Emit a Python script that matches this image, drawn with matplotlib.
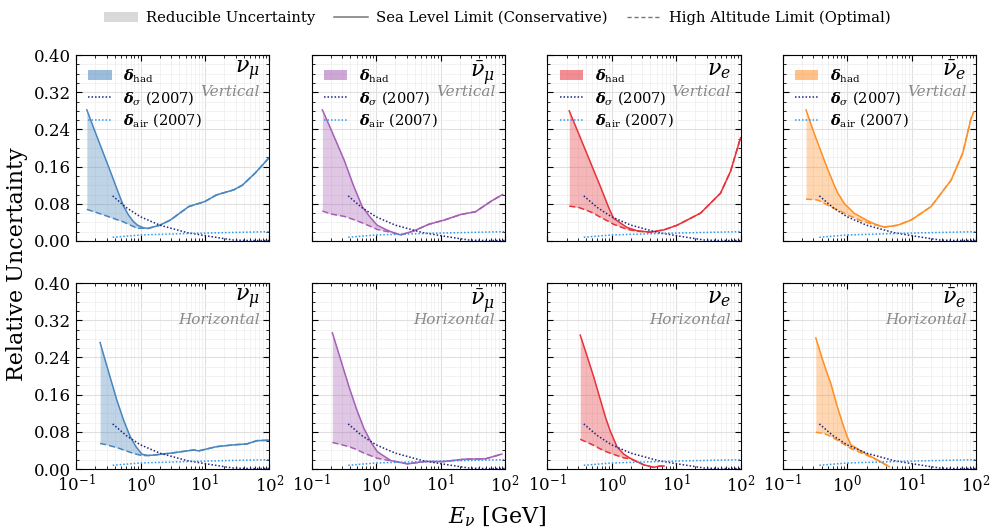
import matplotlib
matplotlib.use("Agg")
import matplotlib.pyplot as plt
from matplotlib.patches import Patch
from matplotlib.lines import Line2D
from matplotlib.ticker import MultipleLocator, LogLocator, NullFormatter

plt.rcParams['font.family'] = ['DejaVu Serif']
plt.rcParams['mathtext.fontset'] = 'dejavuserif'

# shared 2007 reference curves
e_sigma = [0.37, 0.6, 1.0, 2.0, 5.3, 10.6, 20, 28, 50, 100]
d_sigma = [0.097, 0.072, 0.052, 0.034, 0.018, 0.011, 0.005, 0.002, 0.001, 0.001]
e_air = [0.37, 1.0, 3.0, 6.7, 20, 100]
d_air = [0.008, 0.013, 0.015, 0.0165, 0.018, 0.020]

# top row: vertical
e_numu_v = [0.147, 0.2, 0.34, 0.45, 0.545, 0.65, 0.78, 0.9, 1.1, 1.3, 2.0, 2.9, 5.6, 10, 15, 28, 38, 60, 100]
sea_numu_v = [0.282, 0.233, 0.150, 0.105, 0.075, 0.056, 0.0415, 0.034, 0.0286, 0.027, 0.034, 0.045, 0.074, 0.085, 0.099, 0.11, 0.12, 0.146, 0.18]
alt_numu_v = [0.068, 0.062, 0.051, 0.045, 0.041, 0.036, 0.031, 0.027, 0.0278, 0.027, 0.034, 0.045, 0.074, 0.085, 0.099, 0.11, 0.12, 0.146, 0.18]

e_numubar_v = [0.147, 0.2, 0.32, 0.45, 0.61, 0.8, 1.04, 1.4, 1.7, 2.4, 3.9, 6.6, 11.4, 20.6, 35, 60, 92]
sea_numubar_v = [0.282, 0.24, 0.174, 0.118, 0.074, 0.052, 0.034, 0.025, 0.020, 0.013, 0.022, 0.036, 0.045, 0.057, 0.063, 0.085, 0.100]
alt_numubar_v = [0.0645, 0.058, 0.053, 0.046, 0.039, 0.032, 0.025, 0.021, 0.019, 0.013, 0.022, 0.036, 0.045, 0.057, 0.063, 0.085, 0.100]

e_nue_v = [0.22, 0.31, 0.41, 0.52, 0.67, 0.9, 1.07, 1.74, 2.5, 4.0, 6.5, 10.4, 24, 49, 70, 100]
sea_nue_v = [0.280, 0.230, 0.189, 0.154, 0.117, 0.072, 0.049, 0.029, 0.022, 0.019, 0.024, 0.034, 0.060, 0.103, 0.15, 0.222]
alt_nue_v = [0.075, 0.072, 0.066, 0.060, 0.051, 0.042, 0.036, 0.025, 0.021, 0.019, 0.024, 0.034, 0.060, 0.103, 0.15, 0.222]

e_nuebar_v = [0.23, 0.307, 0.35, 0.44, 0.5, 0.63, 0.71, 0.9, 1.01, 1.29, 1.63, 2.07, 2.63, 3.34, 3.8, 6.1, 9.8, 20, 41, 62, 83, 92]
sea_nuebar_v = [0.282, 0.232, 0.211, 0.174, 0.154, 0.120, 0.104, 0.081, 0.074, 0.0595, 0.0517, 0.0437, 0.037, 0.032, 0.030, 0.034, 0.045, 0.074, 0.131, 0.189, 0.262, 0.278]
alt_nuebar_v = [0.090, 0.089, 0.088, 0.081, 0.077, 0.070, 0.067, 0.060, 0.056, 0.050, 0.0437, 0.0394, 0.035, 0.032, 0.030, 0.034, 0.045, 0.074, 0.131, 0.189, 0.262, 0.278]

# bottom row: horizontal
e_numu_h = [0.236, 0.3, 0.43, 0.55, 0.69, 0.85, 1.05, 1.3, 1.6, 3.3, 6.7, 8, 15, 28, 45, 64, 100]
sea_numu_h = [0.272, 0.222, 0.148, 0.104, 0.070, 0.048, 0.032, 0.029, 0.030, 0.035, 0.041, 0.039, 0.048, 0.052, 0.054, 0.061, 0.062]
alt_numu_h = [0.055, 0.052, 0.046, 0.041, 0.036, 0.032, 0.029, 0.029, 0.030, 0.035, 0.041, 0.039, 0.048, 0.052, 0.054, 0.061, 0.062]

e_numubar_h = [0.21, 0.28, 0.38, 0.5, 0.65, 0.85, 1.05, 1.5, 1.7, 3.1, 5.6, 11, 23, 50, 89]
sea_numubar_h = [0.293, 0.237, 0.177, 0.128, 0.087, 0.056, 0.037, 0.023, 0.018, 0.011, 0.016, 0.016, 0.021, 0.022, 0.032]
alt_numubar_h = [0.057, 0.053, 0.048, 0.042, 0.034, 0.028, 0.023, 0.019, 0.018, 0.011, 0.016, 0.016, 0.021, 0.022, 0.032]

e_nue_h = [0.326, 0.42, 0.525, 0.65, 0.80, 0.95, 1.21, 1.54, 1.95, 3.2, 4.5, 5.5, 6.5]
sea_nue_h = [0.288, 0.241, 0.199, 0.155, 0.112, 0.082, 0.048, 0.032, 0.023, 0.0086, 0.0036, 0.006, 0.0065]
alt_nue_h = [0.064, 0.057, 0.051, 0.044, 0.038, 0.034, 0.029, 0.024, 0.022, 0.0086, 0.0036, 0.006, 0.0065]

e_nuebar_h = [0.326, 0.42, 0.5, 0.56, 0.7, 0.85, 1.0, 1.14, 1.84, 2.97, 4.5]
sea_nuebar_h = [0.282, 0.233, 0.202, 0.183, 0.135, 0.098, 0.070, 0.052, 0.035, 0.019, 0.005]
alt_nuebar_h = [0.079, 0.077, 0.073, 0.070, 0.062, 0.055, 0.049, 0.044, 0.032, 0.019, 0.005]

labels = [r'$\nu_\mu$', r'$\bar{\nu}_\mu$', r'$\nu_e$', r'$\bar{\nu}_e$']
colors = ['#4a86bd', '#a560b5', '#e8323a', '#ff8f24']
rows = ['Vertical', 'Horizontal']
energies = [[e_numu_v, e_numubar_v, e_nue_v, e_nuebar_v],
            [e_numu_h, e_numubar_h, e_nue_h, e_nuebar_h]]
sea = [[sea_numu_v, sea_numubar_v, sea_nue_v, sea_nuebar_v],
       [sea_numu_h, sea_numubar_h, sea_nue_h, sea_nuebar_h]]
alt = [[alt_numu_v, alt_numubar_v, alt_nue_v, alt_nuebar_v],
       [alt_numu_h, alt_numubar_h, alt_nue_h, alt_nuebar_h]]

dots = (0, (1, 1.3))

fig, axes = plt.subplots(2, 4, figsize=(9.94, 5.29), dpi=100, sharex=True, sharey=True)
fig.subplots_adjust(left=0.0765, right=0.982, bottom=0.1134, top=0.896, wspace=0.218, hspace=0.226)

for r in range(2):
    for c in range(4):
        ax = axes[r, c]
        col = colors[c]
        E = energies[r][c]
        ax.fill_between(E, alt[r][c], sea[r][c], color=col, alpha=0.35, lw=0)
        ax.plot(E, sea[r][c], color=col, lw=1.1)
        ax.plot(E, alt[r][c], color=col, lw=1.1, ls=(0, (4, 2)))
        ax.plot(e_sigma, d_sigma, color='#1c2583', lw=1.1, ls=dots)
        ax.plot(e_air, d_air, color='#2b98ee', lw=1.1, ls=dots)

        ax.set_xscale('log')
        ax.set_xlim(0.1, 100)
        ax.set_ylim(0, 0.40)
        ax.yaxis.set_major_locator(MultipleLocator(0.08))
        ax.yaxis.set_minor_locator(MultipleLocator(0.02))
        ax.xaxis.set_major_locator(LogLocator(base=10, numticks=10))
        ax.xaxis.set_minor_locator(LogLocator(base=10, subs=range(2, 10), numticks=10))
        ax.xaxis.set_minor_formatter(NullFormatter())
        ax.tick_params(which='both', direction='in', top=True, right=True, labelsize=12)
        ax.tick_params(which='major', length=4)
        ax.tick_params(which='minor', length=2)
        ax.grid(True, which='major', color='#e0e0e0', lw=0.8)
        ax.grid(True, which='minor', color='#f0f0f0', lw=0.6)
        ax.set_axisbelow(True)
        if c == 0:
            ax.set_yticklabels(['%.2f' % v for v in ax.get_yticks()])

        ax.text(0.95, 0.98, labels[c], transform=ax.transAxes, ha='right', va='top', fontsize=16)
        ax.text(0.95, 0.80, rows[r], transform=ax.transAxes, ha='right', va='center',
                fontsize=11, style='italic', color='#888888')

        if r == 0:
            handles = [Patch(facecolor=col, alpha=0.55, edgecolor='none'),
                       Line2D([], [], color='#1c2583', lw=1.1, ls=dots),
                       Line2D([], [], color='#2b98ee', lw=1.1, ls=dots)]
            ax.legend(handles, [r'$\boldsymbol{\delta}_{\rm had}$', r'$\boldsymbol{\delta}_{\sigma}$ (2007)',
                                r'$\boldsymbol{\delta}_{\rm air}$ (2007)'],
                      loc='upper left', frameon=False, fontsize=10.5, handlelength=1.6,
                      handletextpad=0.8, labelspacing=0.3, borderaxespad=0.45)

for ax in axes[0]:
    ax.tick_params(labelbottom=False)

fig.legend([Patch(facecolor='#d9d9d9', edgecolor='none'),
            Line2D([], [], color='#777777', lw=1.1),
            Line2D([], [], color='#777777', lw=1.0, ls=(0, (3, 2)))],
           ['Reducible Uncertainty', 'Sea Level Limit (Conservative)', 'High Altitude Limit (Optimal)'],
           loc='upper center', bbox_to_anchor=(0.5, 1.005), ncol=3, frameon=False, fontsize=10.6,
           handlelength=2.3, handletextpad=0.55, columnspacing=1.3)

fig.supylabel('Relative Uncertainty', fontsize=16, x=0.006)
fig.supxlabel(r'$E_\nu$ [GeV]', fontsize=16, y=0.0)

fig.savefig('out.png', dpi=100)
